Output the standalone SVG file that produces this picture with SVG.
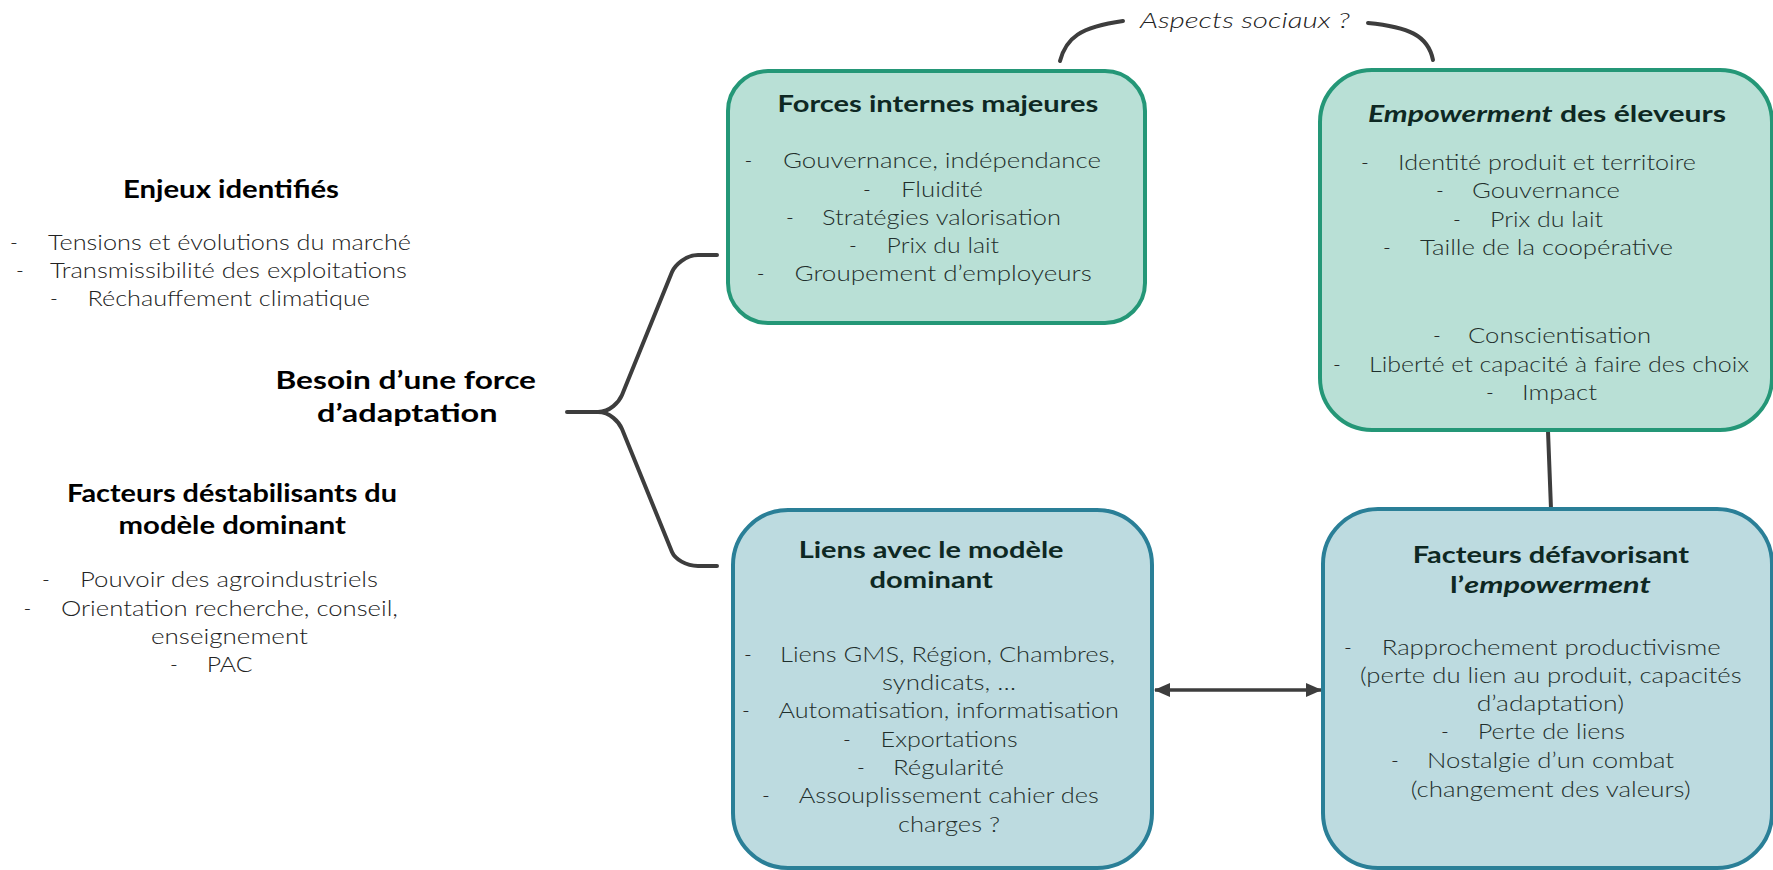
<svg xmlns="http://www.w3.org/2000/svg" width="1773" height="870" viewBox="0 0 1773 870">
<style>
text{font-family:Lato,"Open Sans","Liberation Sans",sans-serif}
.b{font-weight:300;font-size:21px;fill:#222}
.bb{font-weight:300;font-size:21px;fill:#1f2f2c}
.d{font-weight:300;font-size:21px;fill:#222;text-anchor:middle}
.t{font-weight:700;font-size:23px;fill:#0e2823}
.lt{font-weight:700;font-size:25px;fill:#000}
.g{fill:#b9e0d6;stroke:#249777;stroke-width:4}
.u{fill:#bddbe0;stroke:#2a7f97;stroke-width:4}
.c{fill:none;stroke:#3d3d3d;stroke-width:4;stroke-linecap:round}
</style>
<defs>
<marker id="ah" markerUnits="userSpaceOnUse" markerWidth="16" markerHeight="14" refX="15" refY="7" orient="auto-start-reverse">
<path d="M0,0 L16,7 L0,14 Z" fill="#3d3d3d"/>
</marker>
</defs>

<g id="connectors">
<path class="c" d="M567,412 H598 C610,412 619,402 622,395 L672,272 C675,265 686,255 698,255 H717"/>
<path class="c" d="M598,412 C610,412 619,422 622,429 L672,552 C675,559 686,566 698,566 H717"/>
<path class="c" d="M1060,61 C1066,38 1080,27 1123,21"/>
<path class="c" d="M1368,23 C1408,27 1428,35 1433,60"/>
<path class="c" d="M1548,431 L1551,509"/>
<path d="M1155,690 L1321,690" fill="none" stroke="#3d3d3d" stroke-width="3.5" marker-start="url(#ah)" marker-end="url(#ah)"/>
</g>

<g id="label-aspects">
<text class="b" x="1140" y="28" font-size="22" textLength="210" lengthAdjust="spacingAndGlyphs" font-style="italic" style="font-size:22px">Aspects sociaux ?</text>
</g>

<g id="enjeux">
<text class="lt" x="123" y="198" textLength="216" lengthAdjust="spacingAndGlyphs">Enjeux identifiés</text>
<text class="d" x="14" y="250">-</text><text class="b" x="48" y="250" textLength="363" lengthAdjust="spacingAndGlyphs">Tensions et évolutions du marché</text>
<text class="d" x="20" y="278">-</text><text class="b" x="50" y="278" textLength="357" lengthAdjust="spacingAndGlyphs">Transmissibilité des exploitations</text>
<text class="d" x="54" y="306">-</text><text class="b" x="87.5" y="306" textLength="282.5" lengthAdjust="spacingAndGlyphs">Réchauffement climatique</text>
</g>

<g id="besoin">
<text class="lt" x="275.5" y="389" textLength="260.5" lengthAdjust="spacingAndGlyphs">Besoin d’une force</text>
<text class="lt" x="317" y="422" textLength="180.5" lengthAdjust="spacingAndGlyphs">d’adaptation</text>
</g>

<g id="facteurs-destabilisants">
<text class="lt" x="67" y="502" textLength="330" lengthAdjust="spacingAndGlyphs">Facteurs déstabilisants du</text>
<text class="lt" x="118.6" y="534" textLength="227.4" lengthAdjust="spacingAndGlyphs">modèle dominant</text>
<text class="d" x="46" y="587">-</text><text class="b" x="80" y="587" textLength="298" lengthAdjust="spacingAndGlyphs">Pouvoir des agroindustriels</text>
<text class="d" x="27.5" y="616">-</text><text class="b" x="61" y="616" textLength="337" lengthAdjust="spacingAndGlyphs">Orientation recherche, conseil,</text>
<text class="b" x="151" y="644" textLength="157" lengthAdjust="spacingAndGlyphs">enseignement</text>
<text class="d" x="174" y="672">-</text><text class="b" x="206.7" y="672" textLength="45.9" lengthAdjust="spacingAndGlyphs">PAC</text>
</g>

<g id="forces-internes">
<rect class="g" x="728" y="71" width="417" height="252" rx="40"/>
<text class="t" x="777.6" y="112" textLength="320.8" lengthAdjust="spacingAndGlyphs">Forces internes majeures</text>
<text class="d" x="748.5" y="168">-</text><text class="bb" x="783" y="168" textLength="318" lengthAdjust="spacingAndGlyphs">Gouvernance, indépendance</text>
<text class="d" x="867" y="197">-</text><text class="bb" x="901" y="197" textLength="82" lengthAdjust="spacingAndGlyphs">Fluidité</text>
<text class="d" x="790" y="225">-</text><text class="bb" x="822" y="225" textLength="239" lengthAdjust="spacingAndGlyphs">Stratégies valorisation</text>
<text class="d" x="853" y="253">-</text><text class="bb" x="886.6" y="253" textLength="112.4" lengthAdjust="spacingAndGlyphs">Prix du lait</text>
<text class="d" x="760.6" y="281">-</text><text class="bb" x="794.5" y="281" textLength="297.2" lengthAdjust="spacingAndGlyphs">Groupement d’employeurs</text>
</g>

<g id="empowerment">
<rect class="g" x="1320" y="70" width="452" height="360" rx="52"/>
<text class="t" x="1368" y="122" textLength="358" lengthAdjust="spacingAndGlyphs"><tspan font-style="italic">Empowerment</tspan> des éleveurs</text>
<text class="d" x="1365" y="170">-</text><text class="bb" x="1398" y="170" textLength="298" lengthAdjust="spacingAndGlyphs">Identité produit et territoire</text>
<text class="d" x="1440" y="198">-</text><text class="bb" x="1472" y="198" textLength="148" lengthAdjust="spacingAndGlyphs">Gouvernance</text>
<text class="d" x="1457" y="227">-</text><text class="bb" x="1490" y="227" textLength="113" lengthAdjust="spacingAndGlyphs">Prix du lait</text>
<text class="d" x="1387" y="255">-</text><text class="bb" x="1420" y="255" textLength="253" lengthAdjust="spacingAndGlyphs">Taille de la coopérative</text>
<text class="d" x="1437" y="343">-</text><text class="bb" x="1468" y="343" textLength="183" lengthAdjust="spacingAndGlyphs">Conscientisation</text>
<text class="d" x="1337" y="372">-</text><text class="bb" x="1369" y="372" textLength="380" lengthAdjust="spacingAndGlyphs">Liberté et capacité à faire des choix</text>
<text class="d" x="1490" y="400">-</text><text class="bb" x="1522" y="400" textLength="75" lengthAdjust="spacingAndGlyphs">Impact</text>
</g>

<g id="liens-modele">
<rect class="u" x="733" y="510" width="419" height="358" rx="55"/>
<text class="t" x="798.7" y="558" textLength="264.9" lengthAdjust="spacingAndGlyphs">Liens avec le modèle</text>
<text class="t" x="869.5" y="588" textLength="123.3" lengthAdjust="spacingAndGlyphs">dominant</text>
<text class="d" x="748" y="662">-</text><text class="bb" x="780" y="662" textLength="335" lengthAdjust="spacingAndGlyphs">Liens GMS, Région, Chambres,</text>
<text class="bb" x="882" y="690" textLength="134" lengthAdjust="spacingAndGlyphs">syndicats, …</text>
<text class="d" x="746" y="718">-</text><text class="bb" x="778.5" y="718" textLength="340.5" lengthAdjust="spacingAndGlyphs">Automatisation, informatisation</text>
<text class="d" x="847" y="747">-</text><text class="bb" x="880.6" y="747" textLength="137" lengthAdjust="spacingAndGlyphs">Exportations</text>
<text class="d" x="861" y="775">-</text><text class="bb" x="893" y="775" textLength="111" lengthAdjust="spacingAndGlyphs">Régularité</text>
<text class="d" x="766" y="803">-</text><text class="bb" x="798.7" y="803" textLength="300.1" lengthAdjust="spacingAndGlyphs">Assouplissement cahier des</text>
<text class="bb" x="898" y="832" textLength="102" lengthAdjust="spacingAndGlyphs">charges ?</text>
</g>

<g id="facteurs-defavorisant">
<rect class="u" x="1323" y="509" width="449" height="359" rx="55"/>
<text class="t" x="1412.7" y="563" textLength="276.3" lengthAdjust="spacingAndGlyphs">Facteurs défavorisant</text>
<text class="t" x="1450" y="593" textLength="200.7" lengthAdjust="spacingAndGlyphs">l’<tspan font-style="italic">empowerment</tspan></text>
<text class="d" x="1348" y="655">-</text><text class="bb" x="1381.7" y="655" textLength="339" lengthAdjust="spacingAndGlyphs">Rapprochement productivisme</text>
<text class="bb" x="1360" y="683" textLength="381.7" lengthAdjust="spacingAndGlyphs">(perte du lien au produit, capacités</text>
<text class="bb" x="1476.7" y="711" textLength="147.3" lengthAdjust="spacingAndGlyphs">d’adaptation)</text>
<text class="d" x="1445" y="739">-</text><text class="bb" x="1477.7" y="739" textLength="147.3" lengthAdjust="spacingAndGlyphs">Perte de liens</text>
<text class="d" x="1395" y="768">-</text><text class="bb" x="1427" y="768" textLength="247" lengthAdjust="spacingAndGlyphs">Nostalgie d’un combat</text>
<text class="bb" x="1410.7" y="797" textLength="280" lengthAdjust="spacingAndGlyphs">(changement des valeurs)</text>
</g>
</svg>
